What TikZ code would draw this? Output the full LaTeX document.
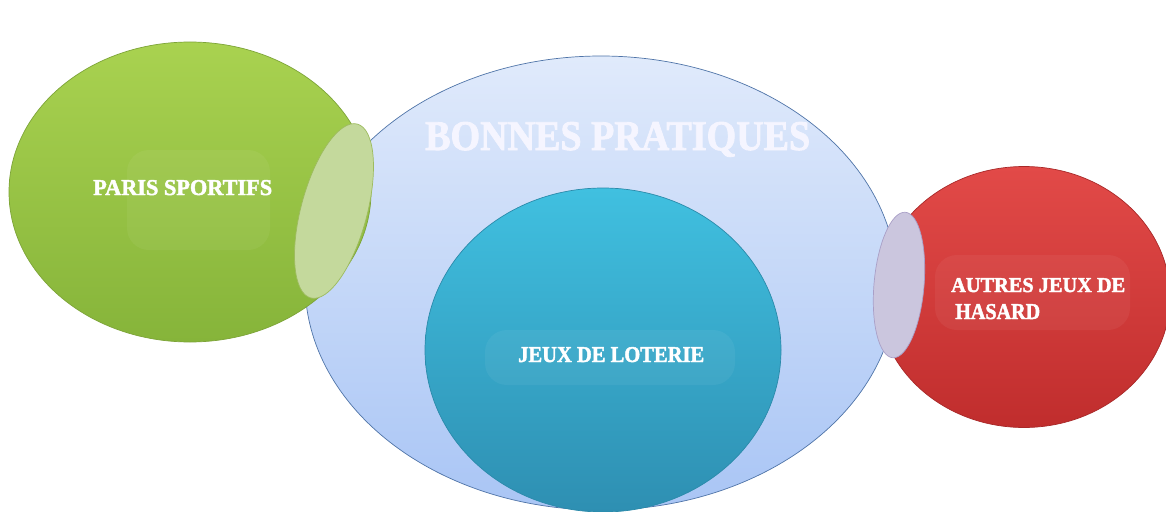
\documentclass[tikz,border=0pt]{standalone}
\usepackage{fontspec}
\usepackage{graphicx}
\setmainfont{Liberation Serif}
\newfontfamily\stencilish[FakeBold=2]{Liberation Serif Bold}
\usetikzlibrary{shapes.geometric}
\definecolor{grtop}{HTML}{A9D250}
\definecolor{grbot}{HTML}{86B43A}
\definecolor{grline}{HTML}{7DA438}
\definecolor{lgfill}{HTML}{C4D99C}
\definecolor{lgline}{HTML}{9DBB5E}
\definecolor{bltop}{HTML}{E0EAFB}
\definecolor{blbot}{HTML}{A9C5F5}
\definecolor{blline}{HTML}{4F74A8}
\definecolor{cytop}{HTML}{40C0E0}
\definecolor{cybot}{HTML}{2E8FB2}
\definecolor{cyline}{HTML}{2A8AAA}
\definecolor{rdtop}{HTML}{E24A48}
\definecolor{rdbot}{HTML}{C02D2D}
\definecolor{rdline}{HTML}{A82828}
\definecolor{lvfill}{HTML}{CBC6DE}
\definecolor{lvline}{HTML}{A99FC7}
\tikzset{
  blob/.style={ellipse, inner sep=0pt, line width=0.7pt},
  label/.style={anchor=base west, inner sep=0pt, text=white, font=\stencilish},
  glow/.style={rounded corners=22pt, fill=white, fill opacity=0.05, draw=none}
}
\begin{document}
\begin{tikzpicture}[x=1pt,y=-1pt]
\useasboundingbox (0,0) rectangle (1166,511);
\fill[white] (0,0) rectangle (1166,511);
% big blue ellipse
\node (bonnes) [blob, draw=blline, top color=bltop, bottom color=blbot,
  minimum width=592pt, minimum height=454pt] at (601,283) {};
% green ellipse
\node (paris) [blob, draw=grline, top color=grtop, bottom color=grbot,
  minimum width=362pt, minimum height=300pt] at (190,192) {};
\fill[glow] (127,150) rectangle (270,250);
% light green overlap
\node (lgover) [blob, draw=lgline, fill=lgfill, rotate=-15,
  minimum width=66pt, minimum height=180pt] at (334,211) {};
% cyan ellipse
\node (loterie) [blob, draw=cyline, top color=cytop, bottom color=cybot,
  minimum width=356pt, minimum height=324pt] at (603,350) {};
\fill[glow] (485,330) rectangle (735,385);
% red ellipse
\node (hasard) [blob, draw=rdline, top color=rdtop, bottom color=rdbot,
  minimum width=292pt, minimum height=261pt] at (1024,297) {};
\fill[glow] (935,255) rectangle (1130,330);
% lavender overlap
\node (lvover) [blob, draw=lvline, fill=lvfill, rotate=-5,
  minimum width=50pt, minimum height=146pt] at (899,285) {};
% texts
\node (t1) [label, text=white!96!blue] at (425,150) {\resizebox{385pt}{28pt}{BONNES PRATIQUES}};
\node (t2) [label] at (93,195) {\resizebox{179pt}{15pt}{PARIS SPORTIFS}};
\node (t3) [label] at (518,362) {\resizebox{186pt}{15pt}{JEUX DE LOTERIE}};
\node (t4) [label] at (951,292) {\resizebox{174pt}{14pt}{AUTRES JEUX DE}};
\node (t5) [label] at (955,319) {\resizebox{85pt}{15pt}{HASARD}};
\end{tikzpicture}
\end{document}
